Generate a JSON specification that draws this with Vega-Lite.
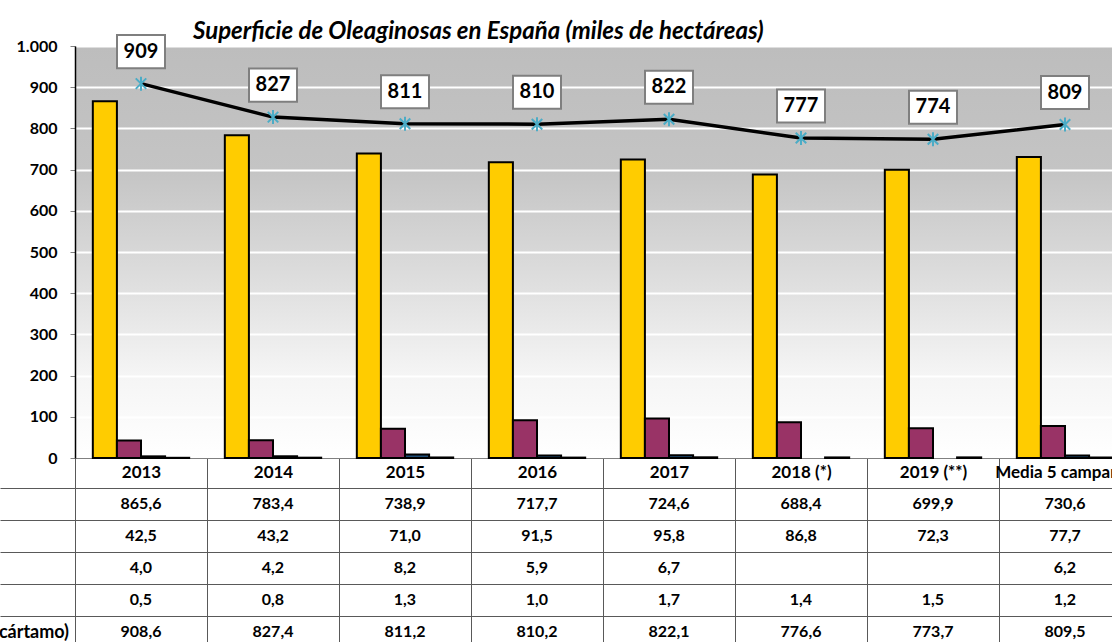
{
  "$schema": "https://vega.github.io/schema/vega-lite/v6.json",
  "autosize": {"type": "none"},
  "padding": {"left": 75, "top": 46, "right": 1100, "bottom": 700},
  "background": "white",
  "config": {
    "locale": {"number": {"decimal": ",", "thousands": ".", "grouping": [3], "currency": ["", " €"]}},
    "font": "Lato",
    "view": {"stroke": null}
  },
  "datasets": {
    "sup": [
      {"cat": "2013", "cultivo": "Girasol", "valor": 865.6},
      {"cat": "2014", "cultivo": "Girasol", "valor": 783.4},
      {"cat": "2015", "cultivo": "Girasol", "valor": 738.9},
      {"cat": "2016", "cultivo": "Girasol", "valor": 717.7},
      {"cat": "2017", "cultivo": "Girasol", "valor": 724.6},
      {"cat": "2018 (*)", "cultivo": "Girasol", "valor": 688.4},
      {"cat": "2019 (**)", "cultivo": "Girasol", "valor": 699.9},
      {"cat": "Media 5 campañas", "cultivo": "Girasol", "valor": 730.6},
      {"cat": "2013", "cultivo": "Colza", "valor": 42.5},
      {"cat": "2014", "cultivo": "Colza", "valor": 43.2},
      {"cat": "2015", "cultivo": "Colza", "valor": 71.0},
      {"cat": "2016", "cultivo": "Colza", "valor": 91.5},
      {"cat": "2017", "cultivo": "Colza", "valor": 95.8},
      {"cat": "2018 (*)", "cultivo": "Colza", "valor": 86.8},
      {"cat": "2019 (**)", "cultivo": "Colza", "valor": 72.3},
      {"cat": "Media 5 campañas", "cultivo": "Colza", "valor": 77.7},
      {"cat": "2013", "cultivo": "Soja", "valor": 4.0},
      {"cat": "2014", "cultivo": "Soja", "valor": 4.2},
      {"cat": "2015", "cultivo": "Soja", "valor": 8.2},
      {"cat": "2016", "cultivo": "Soja", "valor": 5.9},
      {"cat": "2017", "cultivo": "Soja", "valor": 6.7},
      {"cat": "Media 5 campañas", "cultivo": "Soja", "valor": 6.2},
      {"cat": "2013", "cultivo": "Cártamo", "valor": 0.5},
      {"cat": "2014", "cultivo": "Cártamo", "valor": 0.8},
      {"cat": "2015", "cultivo": "Cártamo", "valor": 1.3},
      {"cat": "2016", "cultivo": "Cártamo", "valor": 1.0},
      {"cat": "2017", "cultivo": "Cártamo", "valor": 1.7},
      {"cat": "2018 (*)", "cultivo": "Cártamo", "valor": 1.4},
      {"cat": "2019 (**)", "cultivo": "Cártamo", "valor": 1.5},
      {"cat": "Media 5 campañas", "cultivo": "Cártamo", "valor": 1.2},
      {"cat": "2013", "cultivo": "Total", "valor": 908.6},
      {"cat": "2014", "cultivo": "Total", "valor": 827.4},
      {"cat": "2015", "cultivo": "Total", "valor": 811.2},
      {"cat": "2016", "cultivo": "Total", "valor": 810.2},
      {"cat": "2017", "cultivo": "Total", "valor": 822.1},
      {"cat": "2018 (*)", "cultivo": "Total", "valor": 776.6},
      {"cat": "2019 (**)", "cultivo": "Total", "valor": 773.7},
      {"cat": "Media 5 campañas", "cultivo": "Total", "valor": 809.46}
    ]
  },
  "data": {"name": "sup"},
  "bounds": "flush",
  "spacing": 30,
  "resolve": {"scale": {"x": "independent", "y": "independent", "color": "independent"}, "axis": {"x": "independent", "y": "independent"}},
  "vconcat": [
    {
      "width": 1056,
      "height": 412,
      "title": {"text": "Superficie de Oleaginosas en España (miles de hectáreas)", "anchor": "start", "frame": "group", "dx": 118, "offset": -13, "fontSize": 24, "fontStyle": "italic", "fontWeight": "bold", "font": "Lato", "color": "black"},
      "view": {
        "stroke": null,
        "fill": {"gradient": "linear", "x1": 0, "y1": 0, "x2": 0, "y2": 1,
          "stops": [
            {"offset": 0, "color": "#BDBDBD"},
            {"offset": 0.3, "color": "#C4C4C4"},
            {"offset": 0.55, "color": "#DCDCDC"},
            {"offset": 0.8, "color": "#F5F5F5"},
            {"offset": 1, "color": "#FFFFFF"}
          ]}
      },
      "encoding": {
        "x": {
          "field": "cat", "type": "nominal", "sort": null,
          "scale": {"paddingInner": 0, "paddingOuter": 0},
          "axis": {
            "title": null, "labelAngle": 0, "grid": false,
            "domain": true, "domainColor": "#808080", "domainWidth": 1,
            "ticks": true, "tickBand": "extent", "tickSize": 30, "tickColor": "#595959", "tickWidth": 1,
            "labelPadding": -24, "labelFontSize": 17, "labelFontWeight": "bold", "labelColor": "black", "labelFont": "Lato"
          }
        }
      },
      "layer": [
        {
          "transform": [{"filter": "datum.cultivo != 'Total'"}],
          "mark": {"type": "bar", "stroke": "black", "strokeWidth": 2},
          "encoding": {
            "xOffset": {"field": "cultivo", "type": "nominal", "sort": ["Girasol", "Colza", "Soja", "Cártamo"], "scale": {"paddingInner": 0, "paddingOuter": 0.74}},
            "y": {
              "field": "valor", "type": "quantitative",
              "scale": {"domain": [0, 1000], "nice": false},
              "axis": {
                "title": null, "values": [0, 100, 200, 300, 400, 500, 600, 700, 800, 900, 1000], "format": ",.0f",
                "grid": true, "gridColor": "white", "gridWidth": 2,
                "domain": true, "domainColor": "black", "domainWidth": 1.5,
                "tickColor": "#808080", "tickSize": 5, "labelPadding": 13,
                "labelFontSize": 16, "labelFontWeight": "bold", "labelColor": "black", "labelFont": "Lato"
              }
            },
            "color": {
              "field": "cultivo", "type": "nominal", "legend": null,
              "scale": {"domain": ["Girasol", "Colza", "Soja", "Cártamo"], "range": ["#FFCC00", "#993366", "#1F4E79", "#262626"]}
            }
          }
        },
        {
          "transform": [{"filter": "datum.cultivo == 'Total'"}],
          "mark": {"type": "line", "color": "black", "strokeWidth": 3.5},
          "encoding": {"y": {"field": "valor", "type": "quantitative"}}
        },
        {
          "transform": [{"filter": "datum.cultivo == 'Total'"}],
          "mark": {"type": "point", "shape": "M0,-1L0,1M-0.75,-0.75L0.75,0.75M-0.75,0.75L0.75,-0.75", "filled": false, "stroke": "#4BACC6", "strokeWidth": 2, "size": 196, "opacity": 1},
          "encoding": {"y": {"field": "valor", "type": "quantitative"}}
        },
        {
          "transform": [{"filter": "datum.cultivo == 'Total'"}],
          "mark": {"type": "point", "shape": "M-1,-0.69L1,-0.69L1,0.69L-1,0.69Z", "filled": true, "fill": "white", "stroke": "#7F7F7F", "strokeWidth": 2, "size": 2304, "opacity": 1, "yOffset": -32},
          "encoding": {"y": {"field": "valor", "type": "quantitative"}}
        },
        {
          "transform": [{"filter": "datum.cultivo == 'Total'"}],
          "mark": {"type": "text", "fontSize": 20, "fontWeight": "bold", "color": "black", "baseline": "middle", "yOffset": -32, "font": "Lato"},
          "encoding": {
            "y": {"field": "valor", "type": "quantitative"},
            "text": {"field": "valor", "type": "quantitative", "format": ",.0f"}
          }
        }
      ]
    },
    {
      "width": 1056,
      "height": 160,
      "mark": {"type": "text", "fontSize": 16, "fontWeight": "bold", "color": "black", "font": "Lato"},
      "encoding": {
        "x": {
          "field": "cat", "type": "nominal", "sort": null,
          "scale": {"paddingInner": 0, "paddingOuter": 0},
          "axis": {"title": null, "labels": false, "ticks": false, "domain": false, "grid": true, "tickBand": "extent", "gridColor": "#595959", "gridWidth": 1}
        },
        "y": {
          "field": "cultivo", "type": "nominal", "sort": ["Girasol", "Colza", "Soja", "Cártamo", "Total"],
          "scale": {"paddingInner": 0, "paddingOuter": 0},
          "axis": {
            "title": null, "grid": true, "tickBand": "extent", "gridColor": "#595959", "gridWidth": 1,
            "tickColor": "#595959", "tickSize": 75, "tickWidth": 1, "domain": false,
            "labelAlign": "center", "labelPadding": 69, "labelLimit": 1000,
            "labelExpr": "datum.value == 'Total' ? 'Total (girasol+colza+soja+cártamo)' : datum.value",
            "labelFontSize": 18, "labelFontWeight": "bold", "labelColor": "black", "labelFont": "Lato"
          }
        },
        "text": {"field": "valor", "type": "quantitative", "format": ",.1f"}
      }
    }
  ]
}
